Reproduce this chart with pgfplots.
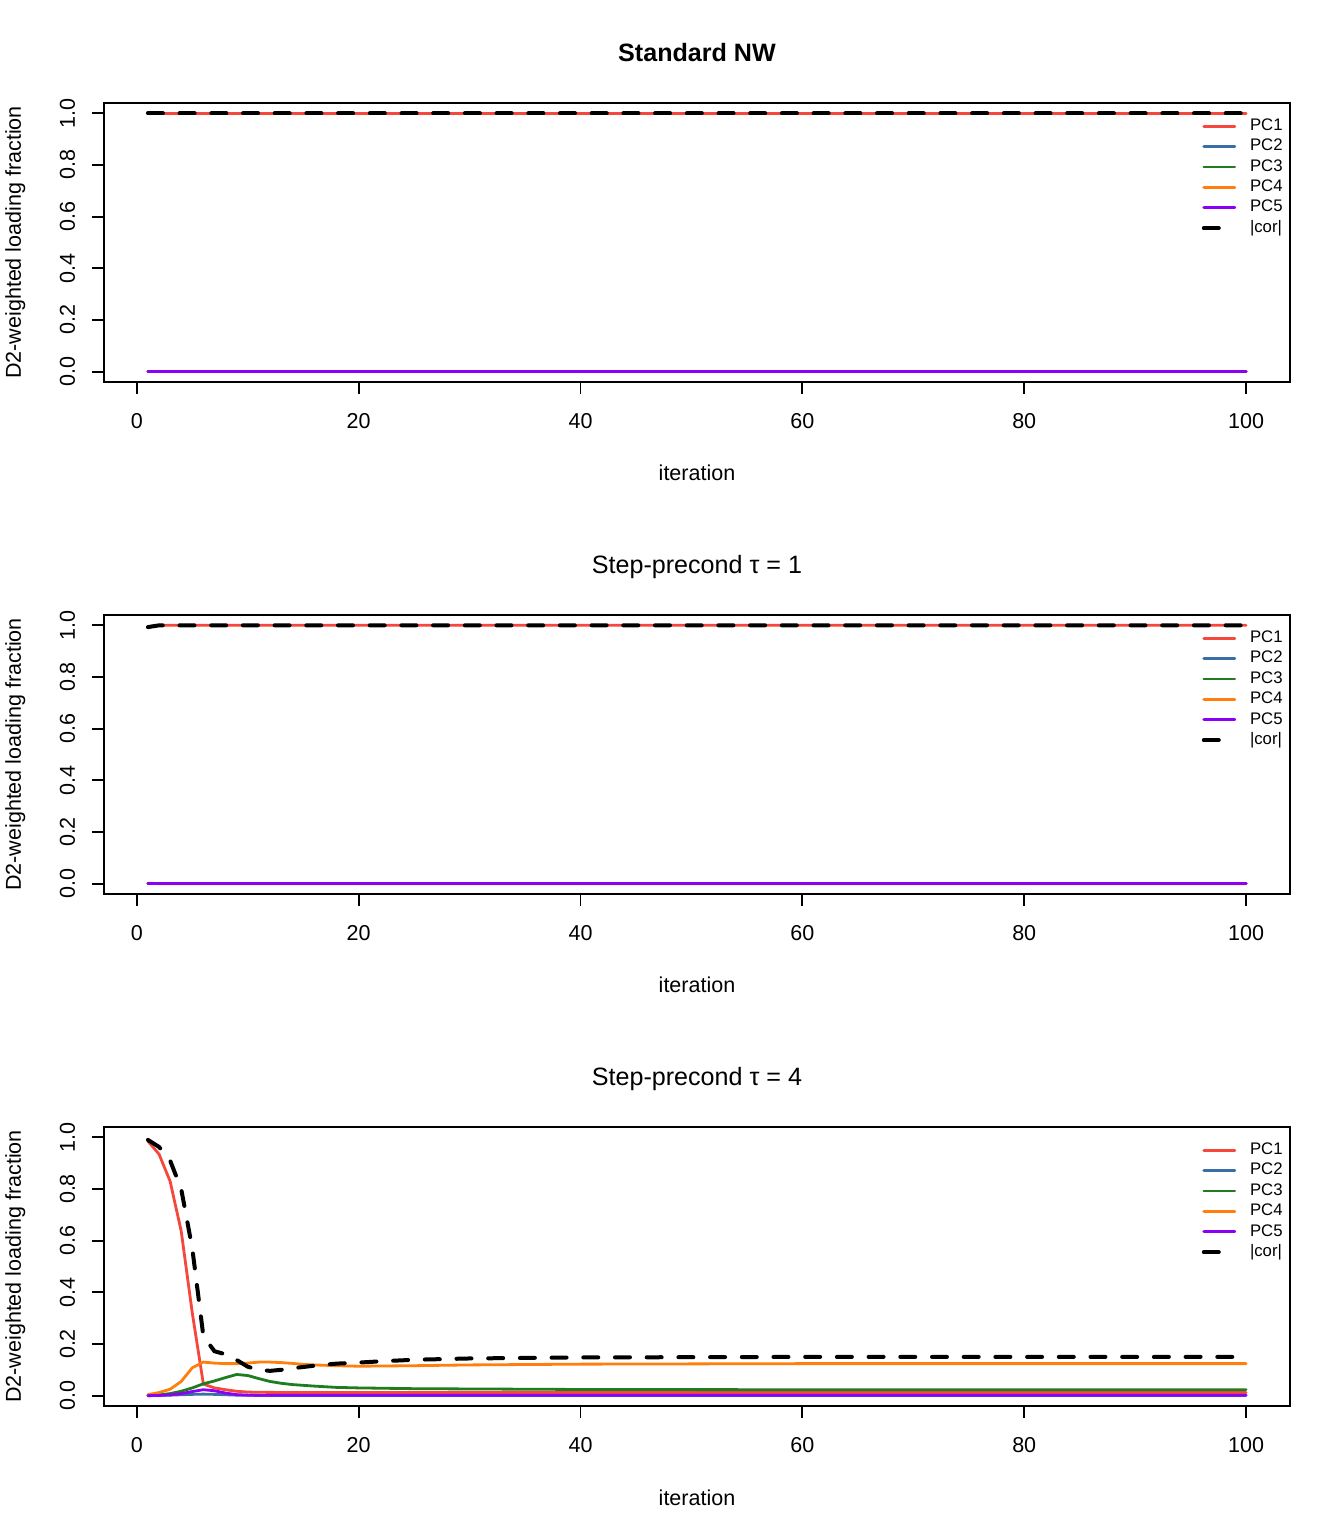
\documentclass[border=0pt]{standalone}
\usepackage{fontspec}
\setmainfont{Liberation Sans}
\usepackage{pgfplots}
\pgfplotsset{compat=1.18}
\definecolor{cPCa}{HTML}{F5473C}
\definecolor{cPCb}{HTML}{3B6DA6}
\definecolor{cPCc}{HTML}{1E7D1E}
\definecolor{cPCd}{HTML}{FF7F0E}
\definecolor{cPCe}{HTML}{8C00F5}
\pgfplotsset{
  rpanel/.style={
    scale only axis, width=593bp, height=139.5bp,
    xmin=-2.96, xmax=103.96, ymin=-0.04, ymax=1.04,
    xtick={0,20,40,60,80,100}, ytick={0,0.2,0.4,0.6,0.8,1.0},
    xtick pos=left, ytick pos=left,
    tick align=outside, major tick length=6bp,
    axis line style={line width=0.9bp},
    every tick/.style={line width=0.9bp, black},
    /pgf/number format/assume math mode=true,
    yticklabel style={/pgf/number format/fixed, /pgf/number format/fixed zerofill, /pgf/number format/precision=1},
    tick label style={font=\fontsize{10.8}{13}\selectfont, inner sep=0pt},
    xticklabel style={anchor=base, yshift=-17.3bp},
    yticklabel style={xshift=-8.5bp, rotate=90, anchor=base},
    xlabel={iteration},
    xlabel style={at={(axis description cs:0.5,0)}, anchor=base, yshift=-49.5bp, font=\fontsize{10.8}{13}\selectfont, inner sep=0pt},
    ylabel={D2-weighted loading fraction},
    ylabel style={at={(axis description cs:-0.0700,0.5)}, anchor=base, rotate=0, font=\fontsize{10.8}{13}\selectfont, inner sep=0pt},
    title style={at={(axis description cs:0.5,1)}, anchor=base, yshift=14.7bp, font=\fontsize{12.6}{15}\selectfont, inner sep=0pt},
    legend style={draw=none, fill=none, at={(axis description cs:0.9253,0.9462)}, anchor=north west,
      font=\fontsize{8.4}{10}\selectfont, inner sep=0pt, row sep=2.4bp,
      nodes={inner sep=0pt, text height=6bp, text depth=1.8bp},
      column sep=6.6bp},
    legend cell align=left,
    legend image code/.code={\draw[#1] (0bp,0bp) -- (15.5bp,0bp);},
    legend entries={PC1,PC2,PC3,PC4,PC5,|cor|},
  },
  pcline/.style={line width=1.4bp, line cap=round, #1},
  corline/.style={line width=2bp, black, dash pattern=on 7.5bp off 8.35bp, line cap=round},
}
\begin{document}
\begin{tikzpicture}
\useasboundingbox (0,0) rectangle (672bp,768bp);
% Panel 1
\begin{axis}[rpanel, at={(52bp,577bp)}, anchor=south west,
  title={\bfseries Standard NW}]
\addplot[pcline=cPCa] coordinates {(1,1) (100,1)};
\addplot[pcline=cPCb] coordinates {(1,0) (100,0)};
\addplot[pcline=cPCc] coordinates {(1,0) (100,0)};
\addplot[pcline=cPCd] coordinates {(1,0) (100,0)};
\addplot[pcline=cPCe] coordinates {(1,0) (100,0)};
\addplot[corline] coordinates {(1,1) (100,1)};
\end{axis}
% Panel 2
\begin{axis}[rpanel, at={(52bp,321bp)}, anchor=south west,
  title={Step-precond τ = 1}]
\addplot[pcline=cPCa] coordinates {(1,0.995) (2,1) (100,1)};
\addplot[pcline=cPCb] coordinates {(1,0) (100,0)};
\addplot[pcline=cPCc] coordinates {(1,0) (100,0)};
\addplot[pcline=cPCd] coordinates {(1,0.002) (2,0) (100,0)};
\addplot[pcline=cPCe] coordinates {(1,0) (100,0)};
\addplot[corline] coordinates {(1,0.993) (2,1) (100,1)};
\end{axis}
% Panel 3
\begin{axis}[rpanel, at={(52bp,65bp)}, anchor=south west,
  title={Step-precond τ = 4}]
\addplot[pcline=cPCa] coordinates {(1,0.985) (2,0.935) (3,0.83) (4,0.637) (5,0.32) (6,0.045) (7,0.03) (8,0.023) (9,0.017) (10,0.014) (11,0.013) (15,0.012) (100,0.012)};
\addplot[pcline=cPCb] coordinates {(1,0) (3,0.002) (5,0.005) (6,0.006) (7,0.005) (9,0.002) (11,0.001) (100,0.001)};
\addplot[pcline=cPCc] coordinates {(1,0) (2,0.003) (3,0.008) (4,0.017) (5,0.03) (6,0.046) (7,0.057) (8,0.07) (9,0.082) (10,0.078) (11,0.066) (12,0.055) (13,0.048) (14,0.043) (15,0.04) (16,0.037) (18,0.032) (20,0.03) (25,0.027) (30,0.026) (40,0.024) (60,0.023) (100,0.023)};
\addplot[pcline=cPCd] coordinates {(1,0.004) (2,0.012) (3,0.025) (4,0.055) (5,0.108) (6,0.13) (7,0.126) (8,0.124) (9,0.124) (10,0.126) (11,0.13) (12,0.13) (13,0.128) (14,0.125) (15,0.121) (16,0.119) (18,0.116) (20,0.114) (25,0.116) (30,0.119) (40,0.122) (60,0.124) (100,0.124)};
\addplot[pcline=cPCe] coordinates {(1,0) (2,0.001) (3,0.003) (4,0.008) (5,0.016) (6,0.023) (7,0.019) (8,0.01) (9,0.004) (10,0.002) (100,0.002)};
\addplot[corline] coordinates {(1,0.99) (2,0.963) (3,0.91) (4,0.80) (5,0.57) (6,0.23) (7,0.172) (8,0.16) (9,0.138) (10,0.112) (11,0.1) (12,0.096) (13,0.1) (14,0.106) (15,0.111) (16,0.116) (17,0.12) (18,0.124) (20,0.128) (22,0.133) (25,0.139) (30,0.144) (35,0.146) (40,0.148) (50,0.149) (60,0.15) (100,0.15)};
\end{axis}
\end{tikzpicture}
\end{document}
